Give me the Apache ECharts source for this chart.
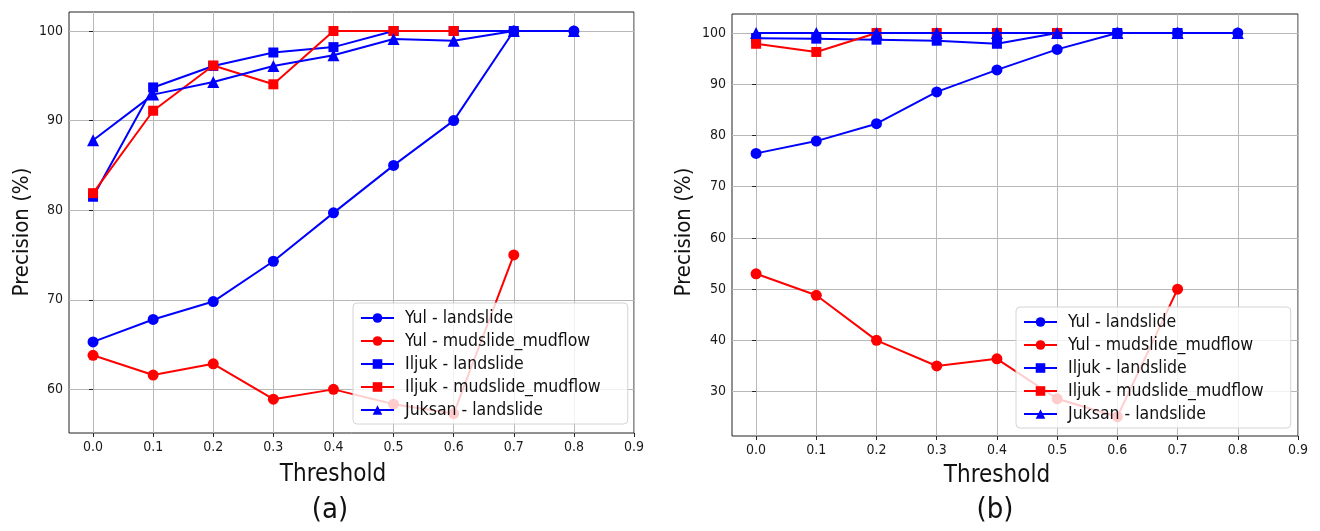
<!DOCTYPE html>
<html>
<head>
<meta charset="utf-8">
<script src="https://cdn.jsdelivr.net/npm/echarts@6/dist/echarts.min.js"></script>
<style>
html,body{margin:0;padding:0;background:#fff;}
#c{width:1320px;height:531px;}
</style>
</head>
<body>
<div id="c"></div>
<script>
// ---- data ----
const thresholds = [0.0, 0.1, 0.2, 0.3, 0.4, 0.5, 0.6, 0.7, 0.8];
const xTicks = [0.0, 0.1, 0.2, 0.3, 0.4, 0.5, 0.6, 0.7, 0.8, 0.9];
const yTicksA = [60, 70, 80, 90, 100];
const yTicksB = [30, 40, 50, 60, 70, 80, 90, 100];
const seriesNames = ['Yul - landslide', 'Yul - mudslide_mudflow', 'Iljuk - landslide', 'Iljuk - mudslide_mudflow', 'Juksan - landslide'];

// panel (a)
const yulLandA   = [65.3, 67.8, 69.8, 74.3, 79.7, 85.0, 90.0, 100, 100];
const yulMudA    = [63.8, 61.6, 62.85, 58.9, 60.0, 58.35, 57.3, 75.0];
const iljukLandA = [81.5, 93.7, 96.1, 97.6, 98.2, 100, 100, 100];
const iljukMudA  = [81.9, 91.1, 96.15, 94.05, 100, 100, 100];
const juksanLandA= [87.8, 92.9, 94.3, 96.1, 97.3, 99.1, 98.9, 100, 100];

// panel (b)
const yulLandB   = [76.5, 78.9, 82.3, 88.5, 92.8, 96.8, 100, 100, 100];
const yulMudB    = [53.0, 48.8, 40.0, 35.0, 36.4, 28.6, 25.1, 50.0];
const iljukLandB = [99.0, 98.9, 98.7, 98.5, 97.9, 100, 100, 100];
const iljukMudB  = [97.9, 96.3, 100, 100, 100, 100];
const juksanLandB= [100, 100, 100, 100, 100, 100, 100, 100, 100];

// ---- styling ----
const BLUE = '#0000ff', RED = '#ff0000';
const FONT = "'DejaVu Sans Condensed', 'DejaVu Sans', sans-serif";
const styles = [
  {color: BLUE, symbol: 'circle', size: 11},
  {color: RED, symbol: 'circle', size: 11},
  {color: BLUE, symbol: 'rect', size: 10},
  {color: RED, symbol: 'rect', size: 10},
  {color: BLUE, symbol: 'triangle', size: 12}
];

function pairs(vals) { return vals.map((v, i) => [thresholds[i], v]); }

function mkSeries(idx, arrs) {
  return arrs.map((vals, k) => ({
    type: 'line',
    name: seriesNames[k],
    xAxisIndex: idx, yAxisIndex: idx,
    data: pairs(vals),
    symbol: styles[k].symbol,
    symbolSize: styles[k].size,
    showAllSymbol: true,
    lineStyle: {color: styles[k].color, width: 2},
    itemStyle: {color: styles[k].color},
    animation: false,
    clip: false,
    z: 2 + k * 0.01
  }));
}

function xAxis(idx) {
  return {
    type: 'value', gridIndex: idx, min: -0.04, max: 0.9,
    axisLine: {show: false},
    axisTick: {show: true, length: 4, lineStyle: {color: '#222'}, customValues: xTicks},
    axisLabel: {customValues: xTicks, formatter: v => v.toFixed(1), color: '#1a1a1a', fontSize: 14, fontFamily: FONT, margin: 7},
    splitLine: {show: true, lineStyle: {color: '#b8b8b8', width: 1}}
  };
}
function yAxis(idx, min, max, ticks) {
  return {
    type: 'value', gridIndex: idx, min: min, max: max,
    axisLine: {show: false},
    axisTick: {show: true, length: 4, lineStyle: {color: '#222'}, customValues: ticks},
    axisLabel: {customValues: ticks, color: '#1a1a1a', fontSize: 14, fontFamily: FONT, margin: 6},
    splitLine: {show: true, lineStyle: {color: '#b8b8b8', width: 1}}
  };
}

function legend(left, top) {
  return {
    orient: 'vertical', left: left, top: top,
    data: seriesNames,
    itemWidth: 33, itemHeight: 12, itemGap: 5,
    padding: [6, 27, 5, 7],
    backgroundColor: 'rgba(255,255,255,0.8)',
    borderColor: '#d4d4d4', borderWidth: 1, borderRadius: 4,
    textStyle: {fontSize: 17.5, fontFamily: FONT, color: '#111', padding: [0, 0, 0, 6]},
    selectedMode: false
  };
}

function label(text, x, y, size, rot) {
  return {
    type: 'text', x: x, y: y, rotation: rot || 0,
    style: {text: text, fontSize: size, fontFamily: FONT, fill: '#111', align: 'center', verticalAlign: 'middle'}
  };
}

const chart = echarts.init(document.getElementById('c'), null, {renderer: 'canvas'});
chart.setOption({
  animation: false,
  grid: [
    {left: 69, top: 12, width: 565, height: 421, show: true, borderColor: '#222', borderWidth: 1, backgroundColor: 'transparent'},
    {left: 732, top: 14, width: 566, height: 422, show: true, borderColor: '#222', borderWidth: 1, backgroundColor: 'transparent'}
  ],
  xAxis: [xAxis(0), xAxis(1)],
  yAxis: [yAxis(0, 55.13, 102.12, yTicksA), yAxis(1, 21.33, 103.71, yTicksB)],
  legend: [legend(353, 303), legend(1016, 307)],
  series: [].concat(
    mkSeries(0, [yulLandA, yulMudA, iljukLandA, iljukMudA, juksanLandA]),
    mkSeries(1, [yulLandB, yulMudB, iljukLandB, iljukMudB, juksanLandB])
  ),
  graphic: [
    label('Precision (%)', 22, 232, 22, Math.PI / 2),
    label('Precision (%)', 684, 232, 22, Math.PI / 2),
    label('Threshold', 333, 475, 24),
    label('Threshold', 997, 476, 24),
    label('(a)', 330, 510, 29),
    label('(b)', 995, 510, 29)
  ]
});
</script>
</body>
</html>
